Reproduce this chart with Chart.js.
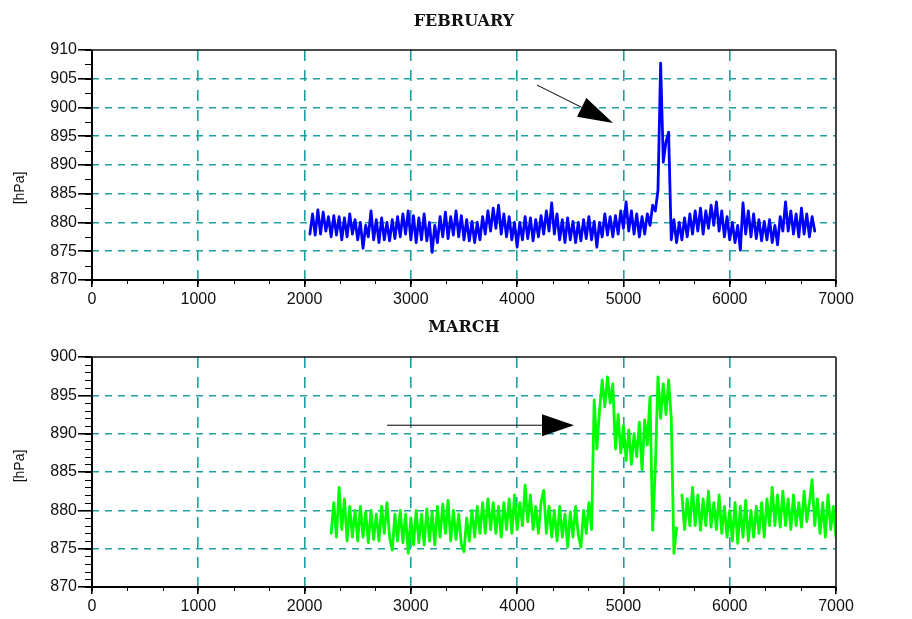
<!DOCTYPE html>
<html>
<head>
<meta charset="utf-8">
<script src="https://cdn.jsdelivr.net/npm/chart.js@4.4.0/dist/chart.umd.min.js"></script>
<style>
    html, body { margin: 0; padding: 0; background: #fff; }
    canvas { display: block; }
</style>
</head>
<body>
<canvas id="febChart" width="912" height="310"></canvas>
<canvas id="marChart" width="912" height="309"></canvas>
<script>
// readings are logged every 25 units, starting where each record begins
const sampleStep = 25;
const febStart = 2050;
const marStart = 2250;

const febPressure = [
    878.0, 881.5, 877.8, 882.2, 878.0, 881.8, 878.5, 881.0,
    877.5, 881.2, 877.8, 881.0, 877.0, 880.8, 877.5, 881.5,
    878.0, 880.5, 877.0, 880.0, 875.5, 879.5, 877.5, 882.0,
    877.0, 880.5, 876.5, 880.8, 877.0, 880.0, 876.8, 880.5,
    877.2, 881.0, 877.5, 881.5, 878.0, 882.0, 877.0, 881.2,
    876.5, 880.8, 877.0, 881.5, 876.8, 880.0, 874.8, 879.5,
    876.5, 881.0, 877.5, 881.8, 877.2, 881.0, 877.8, 882.0,
    877.5, 881.2, 877.0, 880.5, 876.8, 880.2, 876.5, 880.0,
    877.0, 881.0, 878.0, 882.0, 878.5, 882.5, 879.0, 883.0,
    878.0, 881.5, 877.5, 881.0, 877.0, 880.0, 875.7, 880.0,
    877.0, 881.0, 877.2, 880.8, 876.8, 880.5, 877.5, 881.2,
    878.0, 882.0, 878.5, 883.4, 878.0, 881.5, 877.0, 880.5,
    876.5, 880.8, 877.0, 880.2, 876.5, 880.0, 876.8, 880.5,
    877.2, 881.0, 877.0, 880.2, 875.7, 880.0, 877.5, 881.5,
    877.8, 881.0, 877.5, 881.2, 878.0, 882.0, 879.0, 883.6,
    878.5, 882.0, 878.0, 881.5, 877.5, 881.0, 878.0, 881.5,
    879.5, 883.0, 882.0, 885.6, 907.7, 890.5, 894.0, 895.7,
    877.0, 880.5, 876.5, 880.0, 877.0, 880.8, 877.5, 881.5,
    878.0, 882.0, 878.5, 882.5, 878.0, 882.0, 879.0, 883.0,
    879.5, 883.6, 878.5, 882.0, 877.5, 881.0, 877.0, 880.0,
    876.5, 879.5, 875.2, 883.4, 878.0, 882.0, 877.5, 881.5,
    877.2, 880.5, 876.8, 880.2, 877.0, 880.5, 876.5, 879.5,
    876.1, 881.0, 878.5, 883.6, 878.5, 882.0, 878.0, 881.5,
    877.5, 882.5, 878.0, 881.5, 877.5, 881.0, 878.5
];

const marPressure = [
    877.0, 881.0, 876.5, 883.0, 877.5, 881.5, 876.0, 880.5,
    876.5, 880.0, 876.0, 880.5, 876.5, 879.8, 875.8, 880.0,
    876.2, 879.5, 876.0, 880.5, 877.0, 881.0, 876.5, 874.8,
    879.5, 876.0, 880.0, 875.8, 879.5, 874.4, 879.0, 875.5,
    880.0, 875.8, 879.5, 875.5, 880.2, 876.0, 879.8, 875.5,
    880.5, 876.5, 880.8, 877.0, 881.3, 876.0, 880.0, 876.2,
    879.5, 875.5, 874.6, 879.0, 876.0, 880.0, 876.5, 880.5,
    877.0, 881.0, 877.0, 881.5, 877.5, 881.0, 877.0, 880.5,
    876.5, 881.0, 877.5, 881.5, 877.0, 882.0, 877.5, 881.0,
    878.0, 883.3, 878.5, 882.0, 877.5, 880.5, 877.0, 881.0,
    882.6, 877.0, 880.5, 876.5, 880.0, 876.0, 880.5, 876.5,
    879.5, 875.2, 879.8, 876.5, 880.5, 876.8, 875.2, 880.0,
    877.0, 881.0, 877.5, 894.4, 888.0, 893.0, 897.0, 893.5,
    897.4, 894.0, 896.5, 888.0, 892.5, 887.5, 891.0, 886.5,
    890.5, 886.0, 890.0, 887.0, 891.5, 885.3, 891.8, 888.5,
    894.8, 877.4, 885.6, 897.4, 892.0, 896.5, 892.5, 897.0,
    892.0, 874.4, 877.7, null, 882.0, 877.5, 881.5, 878.0,
    883.0, 878.0, 882.0, 877.4, 881.5, 878.0, 882.5, 877.8,
    881.0, 877.5, 882.0, 877.0, 880.5, 876.5, 880.0, 876.0,
    881.0, 875.7, 880.5, 876.5, 881.3, 876.0, 880.0, 876.5,
    880.5, 877.0, 881.0, 876.5, 881.5, 878.0, 883.0, 878.0,
    882.0, 877.8, 882.5, 878.0, 881.5, 877.5, 882.0, 878.0,
    881.0, 877.8, 882.5, 878.5, 881.0, 884.0, 878.0, 881.5,
    877.0, 881.0, 876.5, 882.0, 877.5, 880.5, 876.5
];

const xTicks = [0, 1000, 2000, 3000, 4000, 5000, 6000, 7000];
const febYTicks = [870, 875, 880, 885, 890, 895, 900, 905, 910];
const marYTicks = [870, 875, 880, 885, 890, 895, 900];

// arrow annotations, in data units: [x, hPa]
const febArrow = { from: [4187, 903.9], to: [4902, 897.3] };
const marArrow = { from: [2776, 891.1], to: [4535, 891.1] };

const GRID_COLOR = '#1fa0a0';
const TICK_FONT = { family: "'Liberation Sans', Arial, sans-serif", size: 16 };

function toPoints(start, values) {
    return values.map((v, i) => ({ x: start + i * sampleStep, y: v }));
}

// frame, minor ticks, titles and the arrow
const decorPlugin = {
    id: 'decor',
    afterDraw(chart, args, opts) {
        const { ctx, chartArea: a, scales: { x, y } } = chart;
        ctx.save();

        // minor ticks
        ctx.strokeStyle = '#000';
        ctx.lineWidth = 1;
        ctx.beginPath();
        for (let v = y.min; v <= y.max + 1e-6; v += opts.yMinor) {
            const py = Math.round(y.getPixelForValue(v)) + 0.5;
            ctx.moveTo(a.left - 7, py);
            ctx.lineTo(a.left, py);
        }
        for (let i = 0; i <= 21; i++) {
            const px = Math.round(x.getPixelForValue(i * 1000 / 3)) + 0.5;
            ctx.moveTo(px, a.bottom);
            ctx.lineTo(px, a.bottom + 4);
        }
        ctx.stroke();

        // plot frame
        ctx.lineWidth = 1.5;
        ctx.strokeStyle = '#111';
        ctx.beginPath();
        ctx.moveTo(a.left, a.top);
        ctx.lineTo(a.right, a.top);
        ctx.stroke();
        ctx.strokeStyle = '#444';
        ctx.lineWidth = 2;
        ctx.beginPath();
        ctx.moveTo(a.right, a.top);
        ctx.lineTo(a.right, a.bottom);
        ctx.stroke();
        ctx.strokeStyle = '#000';
        ctx.beginPath();
        ctx.moveTo(a.left, a.top);
        ctx.lineTo(a.left, a.bottom);
        ctx.lineTo(a.right, a.bottom);
        ctx.stroke();

        // month title
        ctx.fillStyle = '#111';
        ctx.font = "bold 16px 'DejaVu Serif', serif";
        ctx.textAlign = 'center';
        ctx.textBaseline = 'middle';
        ctx.fillText(opts.title, (a.left + a.right) / 2, opts.titleY);

        // unit label
        ctx.save();
        ctx.translate(20, opts.unitY);
        ctx.rotate(-Math.PI / 2);
        ctx.font = "14px 'Liberation Sans', Arial, sans-serif";
        ctx.fillText('[hPa]', 0, 0);
        ctx.restore();

        // arrow
        const ar = opts.arrow;
        const x1 = x.getPixelForValue(ar.from[0]), y1 = y.getPixelForValue(ar.from[1]);
        const x2 = x.getPixelForValue(ar.to[0]), y2 = y.getPixelForValue(ar.to[1]);
        const ang = Math.atan2(y2 - y1, x2 - x1);
        const bx = x2 - opts.headLen * Math.cos(ang);
        const by = y2 - opts.headLen * Math.sin(ang);
        const nx = -Math.sin(ang) * opts.headHalf, ny = Math.cos(ang) * opts.headHalf;
        ctx.strokeStyle = '#000';
        ctx.lineWidth = 1;
        ctx.beginPath();
        ctx.moveTo(x1, y1);
        ctx.lineTo(bx, by);
        ctx.stroke();
        ctx.fillStyle = '#000';
        ctx.beginPath();
        ctx.moveTo(x2, y2);
        ctx.lineTo(bx + nx, by + ny);
        ctx.lineTo(bx - nx, by - ny);
        ctx.closePath();
        ctx.fill();

        ctx.restore();
    }
};

function makeChart(canvasId, cfg) {
    const canvas = document.getElementById(canvasId);
    const yMin = cfg.yTicks[0], yMax = cfg.yTicks[cfg.yTicks.length - 1];
    const gridColor = (c) => {
        const v = c.tick ? c.tick.value : null;
        return (v === c.scale.min || v === c.scale.max) ? 'rgba(0,0,0,0)' : GRID_COLOR;
    };

    return new Chart(canvas.getContext('2d'), {
        type: 'line',
        data: {
            datasets: [{
                data: toPoints(cfg.start, cfg.values),
                borderColor: cfg.color,
                borderWidth: 2.8,
                borderJoinStyle: 'round',
                borderCapStyle: 'round',
                pointRadius: 0,
                tension: 0,
                spanGaps: false
            }]
        },
        options: {
            responsive: false,
            animation: false,
            events: [],
            layout: { padding: { top: cfg.padTop, right: 76, left: 0, bottom: 0 } },
            plugins: {
                legend: { display: false },
                tooltip: { enabled: false },
                title: { display: false },
                decor: {
                    title: cfg.title,
                    titleY: cfg.titleY,
                    unitY: cfg.unitY,
                    yMinor: cfg.yMinor,
                    arrow: cfg.arrow,
                    headLen: cfg.headLen,
                    headHalf: cfg.headHalf
                }
            },
            scales: {
                x: {
                    type: 'linear',
                    min: 0,
                    max: 7000,
                    afterBuildTicks: (s) => { s.ticks = xTicks.map(v => ({ value: v })); },
                    afterFit: (s) => { s.height = cfg.xHeight; },
                    border: { display: false, dash: [11, 9] },
                    grid: { color: gridColor, tickColor: '#000', tickLength: 7, lineWidth: 1.6 },
                    ticks: {
                        autoSkip: false, maxRotation: 0, padding: 3, color: '#111', font: TICK_FONT,
                        callback: (v) => String(v)
                    }
                },
                y: {
                    type: 'linear',
                    min: yMin,
                    max: yMax,
                    afterBuildTicks: (s) => { s.ticks = cfg.yTicks.map(v => ({ value: v })); },
                    afterFit: (s) => { s.width = 92; },
                    border: { display: false, dash: [7, 6] },
                    grid: { color: gridColor, tickColor: '#000', tickLength: 14, lineWidth: 1.6 },
                    ticks: { padding: 1, color: '#111', font: TICK_FONT, callback: (v) => String(v) }
                }
            }
        },
        plugins: [decorPlugin]
    });
}

makeChart('febChart', {
    title: 'FEBRUARY', titleY: 22, unitY: 188,
    start: febStart, values: febPressure, color: '#0000ff',
    yTicks: febYTicks, yMinor: 2.5,
    padTop: 50, xHeight: 30,
    arrow: febArrow, headLen: 35, headHalf: 10.5
});

makeChart('marChart', {
    title: 'MARCH', titleY: 18, unitY: 156,
    start: marStart, values: marPressure, color: '#00ff00',
    yTicks: marYTicks, yMinor: 1,
    padTop: 47, xHeight: 32,
    arrow: marArrow, headLen: 32, headHalf: 11
});
</script>
</body>
</html>
